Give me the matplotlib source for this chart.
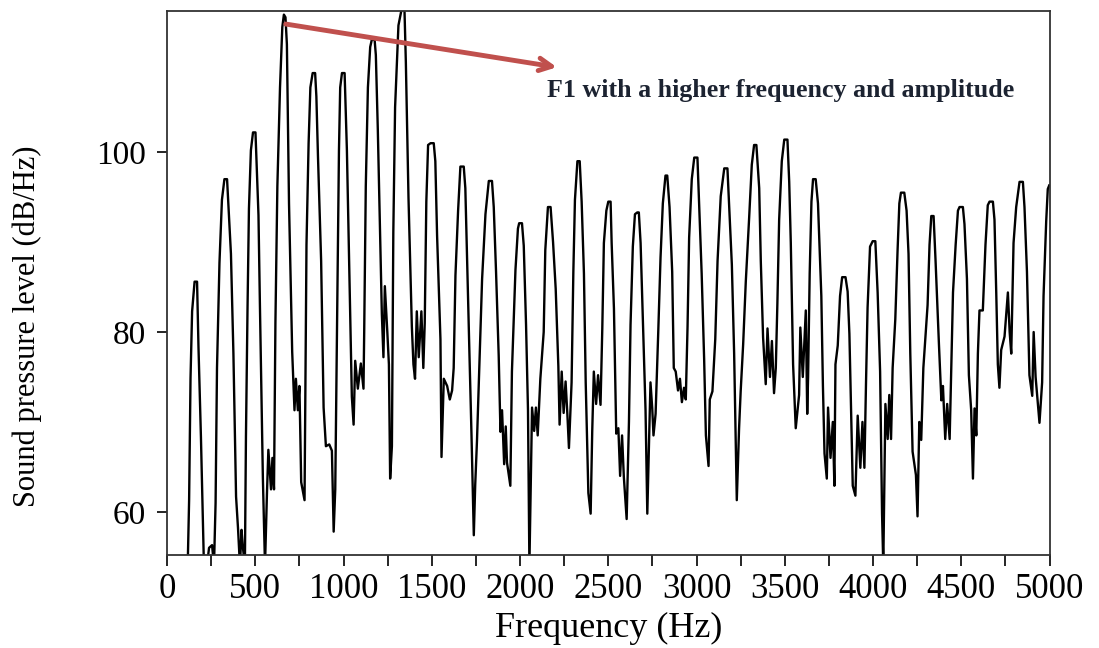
import numpy as np
import matplotlib
matplotlib.use('Agg')
import matplotlib.pyplot as plt

# spectrum (frequency in Hz, level in dB/Hz)
freq_hz = [
    117, 125, 133, 142, 156, 170, 178, 192, 209, 226, 238, 255, 266,
    275, 283, 297, 311, 325, 340, 348, 362, 376, 391, 402, 413, 422, 430, 441,
    447, 456, 464, 475, 487, 501, 518, 526, 543, 555, 566, 574, 589, 597, 606,
    614, 625, 640, 653, 662, 671, 679, 691, 709, 722, 730, 741, 750, 760, 779,
    784, 790, 802, 812, 825, 839, 846, 855, 873, 887, 900, 919, 934, 944,
    953, 966, 974, 981, 991, 1006, 1019, 1032, 1047, 1057, 1066, 1081, 1098, 1113, 1117,
    1126, 1138, 1151, 1160, 1176, 1183, 1194, 1207, 1217, 1226, 1234, 1248, 1257, 1264,
    1274, 1282, 1292, 1311, 1330, 1345, 1353, 1368, 1387, 1396, 1405, 1415, 1426, 1441, 1452, 1460,
    1469, 1479, 1493, 1511, 1520, 1530, 1549, 1555, 1568, 1587, 1602, 1615, 1624,
    1634, 1649, 1662, 1681, 1690, 1700, 1713, 1725, 1738, 1746, 1756, 1766,
    1785, 1804, 1823, 1841, 1851, 1864, 1879, 1889, 1898, 1910, 1919, 1926, 1945,
    1954, 1974, 1988, 1995, 2011, 2021, 2034, 2045, 2053, 2068, 2080, 2090, 2100, 2115,
    2134, 2143, 2158, 2173, 2187, 2202, 2217, 2224, 2236, 2247, 2258, 2268, 2277,
    2292, 2302, 2311, 2325, 2338, 2349, 2362, 2372, 2387, 2400, 2409, 2418, 2431, 2442, 2456,
    2466, 2475, 2489, 2500, 2513, 2519, 2532, 2545, 2557, 2567, 2578, 2588, 2604,
    2617, 2626, 2639, 2651, 2664, 2673, 2683, 2696, 2711, 2721, 2739, 2749, 2756, 2768,
    2783, 2796, 2809, 2824, 2834, 2847, 2862, 2871, 2882, 2895, 2906, 2917, 2929, 2939,
    2949, 2958, 2973, 2987, 3005, 3015, 3029, 3043, 3053, 3068, 3075, 3090,
    3106, 3119, 3137, 3157, 3175, 3185, 3200, 3213, 3222, 3228, 3241, 3250,
    3264, 3279, 3298, 3313, 3326, 3339, 3355, 3364, 3377, 3392, 3402, 3416, 3427, 3439, 3449,
    3458, 3468, 3483, 3497, 3515, 3525, 3534, 3547, 3562, 3581, 3588, 3602, 3619, 3627,
    3632, 3641, 3651, 3660, 3675, 3688, 3707, 3716, 3725, 3738, 3745, 3759, 3772, 3781,
    3787, 3800, 3813, 3825, 3844, 3856, 3866, 3876, 3885, 3900, 3913, 3928, 3940, 3951,
    3960, 3969, 3983, 3998, 4013, 4026, 4040, 4051, 4058, 4070, 4083, 4092, 4102,
    4111, 4126, 4139, 4149, 4158, 4177, 4190, 4201, 4211, 4224, 4243, 4252, 4262, 4273,
    4285, 4309, 4320, 4330, 4343, 4354, 4373, 4387, 4396, 4409, 4420, 4434,
    4443, 4453, 4468, 4481, 4490, 4509, 4518, 4532, 4543, 4556, 4566, 4575, 4585, 4594,
    4603, 4622, 4637, 4650, 4660, 4679, 4688, 4698, 4707, 4716, 4726, 4745, 4764, 4774, 4783,
    4796, 4811, 4830, 4849, 4858, 4872, 4886, 4902, 4910, 4921, 4934, 4943, 4958,
    4966, 4981, 4990, 4998,
]

level_db = [
    54, 61.3, 74.9, 82.3, 85.6, 85.6, 78.4, 68.3, 54, 54, 56.0, 56.3, 54,
    61, 76, 87.7, 94.7, 97, 97, 93.9, 88.7, 77.6, 61.7, 58.2, 54, 58, 56, 54,
    68.3, 82.7, 93.7, 100.2, 102.2, 102.2, 93, 83.2, 63.7, 54, 62, 66.9, 62.5, 66, 62.5,
    81, 96.2, 107.2, 113.9, 115.3, 115, 112, 94.3, 77.8, 71.3, 74.8, 71.3, 74, 63.3, 61.3,
    74.6, 89.7, 101, 107.2, 108.8, 108.8, 106.2, 99.6, 87.9, 71.6, 67.3, 67.5, 66.8, 57.8,
    62.5, 85.9, 100.2, 107.2, 108.8, 108.8, 100.2, 87.5, 72.8, 69.7, 76.8, 73.7, 76.5, 73.7, 80,
    96.2, 107.2, 111.7, 112.5, 112.5, 110.8, 102.6, 90.9, 82, 77.2, 85.1, 80, 76.4, 63.7,
    67.3, 91.1, 105, 114.1, 116, 116, 110, 94.9, 80.6, 76.4, 74.8, 82.3, 77.2, 82.3, 76, 81,
    94.5, 100.8, 101, 101, 99, 90.7, 79.2, 66.1, 74.8, 74, 72.5, 73.5, 76,
    86.3, 93.5, 98.4, 98.4, 96, 87.9, 77.8, 68.5, 57.4, 63, 67.9, 74.2,
    85.9, 93.1, 96.8, 96.8, 93.9, 86.7, 77.4, 68.9, 71.3, 65.3, 69.5, 65.5, 62.9,
    75.6, 86.9, 91.5, 92.1, 92.1, 89.6, 80.8, 71.3, 54, 71.6, 69, 71.6, 68.5, 74.8,
    80, 89.1, 93.9, 93.9, 90, 84.8, 76.2, 69.7, 75.6, 71, 74.5, 70.9, 67.1,
    74.4, 86.7, 94.7, 99, 99, 94.5, 86.5, 74.4, 62.1, 59.8, 69, 75.6, 72, 75.2, 71.9,
    80.4, 89.9, 93.5, 94.5, 94.5, 89.9, 82.6, 68.7, 69.3, 64, 68.5, 63.9, 59.2,
    70, 80.8, 89.5, 93.1, 93.3, 93.3, 89.9, 81.2, 71.3, 59.8, 74.4, 71.5, 68.5, 70.9,
    80, 88.3, 94.3, 97.4, 97.4, 93.9, 86.7, 76, 75.6, 73.5, 74.8, 72.2, 73.8, 72.5,
    80.6, 90.5, 97, 99.4, 99.4, 93.9, 86.5, 77, 68.5, 65.1, 72.5, 73.4,
    79.2, 87.9, 95.1, 98.2, 98.2, 93.9, 87.5, 77.6, 67.9, 61.3, 69.3, 73.4,
    78.6, 85.6, 92.7, 98.6, 100.8, 100.8, 96, 87.9, 79.4, 74.2, 80.4, 75, 79, 73.2, 76,
    83.2, 92.5, 99, 101.4, 101.4, 96.7, 89.9, 76.4, 69.3, 73, 80.5, 75, 82.4, 70.9,
    75, 86.5, 94.5, 97, 97, 94.3, 84, 74, 66.5, 63.7, 71.6, 66, 70, 62.9,
    76.4, 78.5, 84, 86.1, 86.1, 84.5, 79.8, 70.9, 62.9, 61.8, 70.7, 64.9, 70, 64.9,
    74.2, 82.7, 89.5, 90.1, 90.1, 84.4, 75.6, 59.8, 54, 72, 68.1, 73, 68.1,
    76, 81.4, 89.1, 94.3, 95.5, 95.5, 93.5, 88.7, 77.6, 66.7, 64.1, 59.5, 70, 68,
    76, 83, 89.7, 92.9, 92.9, 88, 78.8, 72.4, 74, 68.1, 72, 68.1,
    76, 84.4, 89.7, 93.5, 93.9, 93.9, 92, 85.9, 75.2, 71.3, 63.7, 71.5, 68.5, 77.6,
    82.4, 82.4, 89.7, 94.1, 94.5, 94.5, 92.5, 84.4, 76.4, 73.8, 78, 79.5, 84.4, 80, 77.6,
    89.9, 93.9, 96.7, 96.7, 93.9, 86.7, 75.2, 72.9, 80, 75, 72, 69.9, 74.4,
    84, 92.3, 95.9, 96.3,
]

x_ticks = [0, 500, 1000, 1500, 2000, 2500, 3000, 3500, 4000, 4500, 5000]
y_ticks = [60, 80, 100]
note_text = 'F1 with a higher frequency and amplitude'

plt.rcParams['font.family'] = ['Liberation Serif', 'DejaVu Serif']

fig = plt.figure(figsize=(10.99, 6.48), dpi=100)
ax = fig.add_axes([0.152, 0.1435, 0.803, 0.8395])

ax.plot(freq_hz, level_db, color='black', lw=1.7)

ax.set_xlim(0, 5000)
ax.set_ylim(55.2, 115.7)
ax.set_xticks(x_ticks)
ax.set_xticks(np.arange(250, 5000, 500), minor=True)
ax.set_yticks(y_ticks)
ax.tick_params(axis='x', which='both', direction='out', length=8, width=1.2,
               labelsize=25, pad=5)
ax.tick_params(axis='y', direction='out', length=7, width=1.2, labelsize=24, pad=8)
for s in ax.spines.values():
    s.set_linewidth(1.3)
    s.set_color('#333333')

ax.set_xlabel('Frequency (Hz)', fontsize=26)
ax.xaxis.set_label_coords(0.5, -0.105)
ax.set_ylabel('Sound pressure level (dB/Hz)', fontsize=22)
ax.yaxis.set_label_coords(-0.142, 0.42)

ax.annotate('', xy=(2224, 109.4), xytext=(657, 114.3),
            arrowprops=dict(arrowstyle='->,head_length=0.9,head_width=0.45',
                            color='#c0504d', lw=3.5))
ax.text(2155, 106.9, note_text, fontsize=18.7, fontweight='bold', color='#1c2331',
        ha='left', va='center')

fig.savefig('out.png', dpi=100)
